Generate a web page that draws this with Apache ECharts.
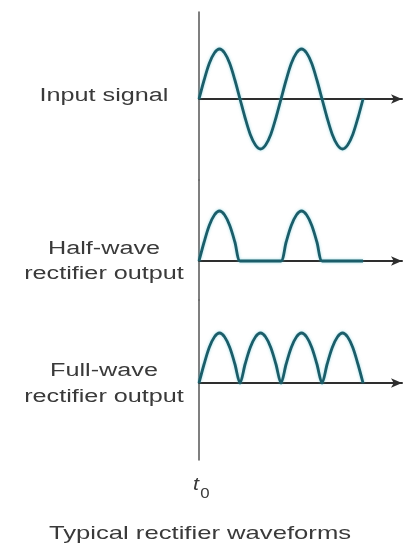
<!DOCTYPE html>
<html>
<head>
<meta charset="utf-8">
<script src="https://cdn.jsdelivr.net/npm/echarts@6/dist/echarts.min.js"></script>
<style>
  html, body { margin: 0; padding: 0; background: #ffffff; }
  #chart { width: 409px; height: 553px; }
</style>
</head>
<body>
<div id="chart"></div>
<script>
// Time in half-periods of the input sine (t0 = 0)
const times = [0, 0.125, 0.25, 0.375, 0.5, 0.625, 0.75, 0.875, 1,
  1.125, 1.25, 1.375, 1.5, 1.625, 1.75, 1.875, 2,
  2.125, 2.25, 2.375, 2.5, 2.625, 2.75, 2.875, 3,
  3.125, 3.25, 3.375, 3.5, 3.625, 3.75, 3.875, 4];

// Normalised amplitudes of each waveform
const inputSignal = [0, 0.38, 0.71, 0.92, 1, 0.92, 0.71, 0.38, 0,
  -0.38, -0.71, -0.92, -1, -0.92, -0.71, -0.38, 0,
  0.38, 0.71, 0.92, 1, 0.92, 0.71, 0.38, 0,
  -0.38, -0.71, -0.92, -1, -0.92, -0.71, -0.38, 0];

const halfWave = [0, 0.38, 0.71, 0.92, 1, 0.92, 0.71, 0.38, 0,
  0, 0, 0, 0, 0, 0, 0, 0,
  0.38, 0.71, 0.92, 1, 0.92, 0.71, 0.38, 0,
  0, 0, 0, 0, 0, 0, 0, 0];

const fullWave = [0, 0.38, 0.71, 0.92, 1, 0.92, 0.71, 0.38, 0,
  0.38, 0.71, 0.92, 1, 0.92, 0.71, 0.38, 0,
  0.38, 0.71, 0.92, 1, 0.92, 0.71, 0.38, 0,
  0.38, 0.71, 0.92, 1, 0.92, 0.71, 0.38, 0];

const rowLabels = [
  ['Input signal'],
  ['Half-wave', 'rectifier output'],
  ['Full-wave', 'rectifier output']
];
const originLabel = 't';
const originSub = '0';
const caption = 'Typical rectifier waveforms';

const pairs = vals => times.map((t, i) => [t, vals[i]]);

const WAVE = '#1b5d69';
const TEXT = '#3a3a3a';
const FONT = 'Liberation Sans, Arial, sans-serif';

const grids = [
  { left: 199, top: 12, width: 203, height: 168 },
  { left: 199, top: 180, width: 203, height: 120 },
  { left: 199, top: 300, width: 203, height: 160 }
];
const yRanges = [[-1.62, 1.74], [-0.78, 1.62], [-1.54, 1.66]];

const xAxes = grids.map((g, i) => ({
  type: 'value', gridIndex: i, min: 0, max: 4.95,
  axisLine: {
    show: true, onZero: true,
    symbol: ['none', 'arrow'], symbolSize: [7, 11],
    lineStyle: { color: '#2e2e2e', width: 2 }
  },
  axisTick: { show: false }, axisLabel: { show: false }, splitLine: { show: false }
}));

const yAxes = grids.map((g, i) => ({
  type: 'value', gridIndex: i, min: yRanges[i][0], max: yRanges[i][1],
  axisLine: { show: true, onZero: false, lineStyle: { color: '#555555', width: 1.5 } },
  axisTick: { show: false }, axisLabel: { show: false }, splitLine: { show: false }
}));

const waveSeries = [inputSignal, halfWave, fullWave].map((vals, i) => ({
  type: 'line', xAxisIndex: i, yAxisIndex: i,
  data: pairs(vals), showSymbol: false, smooth: 0.3,
  lineStyle: { color: WAVE, width: 2.8, shadowColor: 'rgba(70,190,210,0.55)', shadowBlur: 3 },
  z: 3
}));

// Text is drawn slightly stretched horizontally, like the wide lettering of the figure
const labelY = [[96], [249, 274], [371, 397]];
const textEls = [];
rowLabels.forEach((lines, r) => {
  lines.forEach((txt, k) => {
    textEls.push({
      type: 'text', x: 104, y: labelY[r][k], scaleX: 1.4,
      style: { text: txt, font: '18px ' + FONT, fill: TEXT, align: 'center', verticalAlign: 'middle' }
    });
  });
});
textEls.push({
  type: 'text', x: 196, y: 485, scaleX: 1.2,
  style: { text: originLabel, font: 'italic 18px ' + FONT, fill: TEXT, align: 'center', verticalAlign: 'middle' }
});
textEls.push({
  type: 'text', x: 205, y: 494, scaleX: 1.2,
  style: { text: originSub, font: '14px ' + FONT, fill: TEXT, align: 'center', verticalAlign: 'middle' }
});
textEls.push({
  type: 'text', x: 200, y: 534, scaleX: 1.35,
  style: { text: caption, font: '19px ' + FONT, fill: TEXT, align: 'center', verticalAlign: 'middle' }
});

const chart = echarts.init(document.getElementById('chart'), null, { renderer: 'canvas' });
chart.setOption({
  animation: false,
  backgroundColor: '#ffffff',
  grid: grids,
  xAxis: xAxes,
  yAxis: yAxes,
  series: waveSeries,
  graphic: textEls
});
</script>
</body>
</html>
